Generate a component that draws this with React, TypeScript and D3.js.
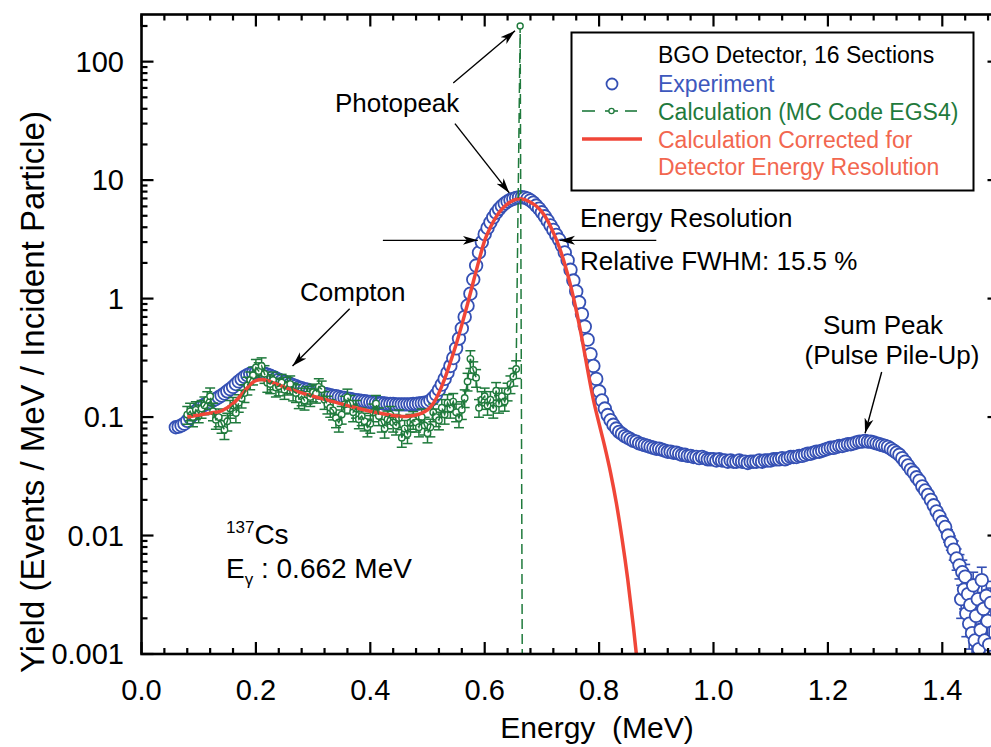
import React, { useEffect, useRef } from 'react';
import * as d3 from 'd3';

// Experiment: BGO spectrum, 5 keV channels
const expComptonStart = 0.06;
const expCompton = [
  0.082, 0.083, 0.085, 0.088, 0.093, 0.099, 0.105, 0.112, 0.118, 0.123,
  0.127, 0.130, 0.134, 0.138, 0.142, 0.147, 0.152, 0.158, 0.165, 0.172,
  0.180, 0.190, 0.200, 0.209, 0.218, 0.226, 0.232, 0.236, 0.238, 0.238,
  0.236, 0.232, 0.228, 0.223, 0.218, 0.212, 0.207, 0.202, 0.198, 0.194,
  0.190, 0.186, 0.182, 0.178, 0.175, 0.172, 0.170, 0.167, 0.165, 0.163,
  0.161, 0.159, 0.157, 0.155, 0.153, 0.151, 0.150, 0.148, 0.146, 0.145,
  0.143, 0.142, 0.140, 0.139, 0.138, 0.137, 0.136, 0.135, 0.134, 0.133,
  0.132, 0.131, 0.131, 0.130, 0.129, 0.129, 0.129, 0.128, 0.128, 0.128,
  0.128, 0.128, 0.128, 0.129, 0.129, 0.130, 0.131, 0.132,
];
const expPhotopeakStart = 0.5;
const expPhotopeak = [
  0.133, 0.138, 0.145, 0.155, 0.170, 0.188, 0.210, 0.237, 0.270, 0.315,
  0.380, 0.460, 0.560, 0.700, 0.870, 1.10, 1.45, 1.90, 2.45, 3.00,
  3.50, 3.95, 4.40, 4.85, 5.30, 5.70, 6.05, 6.35, 6.60, 6.80,
  6.95, 7.08, 7.15, 7.18, 7.12, 6.98, 6.75, 6.45, 6.10, 5.75,
  5.35, 4.95, 4.55, 4.15, 3.80, 3.45, 3.15, 2.80, 2.45, 2.10,
  1.75, 1.42, 1.15, 0.93, 0.74, 0.58, 0.45, 0.34, 0.27, 0.21,
];
const expContinuumStart = 0.8;
const expContinuum = [
  0.165, 0.138, 0.118, 0.104, 0.094, 0.086, 0.080, 0.075, 0.072, 0.069,
  0.067, 0.065, 0.063, 0.062, 0.060, 0.059, 0.058, 0.057, 0.056, 0.055,
  0.054, 0.054, 0.053, 0.052, 0.051, 0.051, 0.050, 0.050, 0.049, 0.048,
  0.048, 0.047, 0.047, 0.046, 0.046, 0.045, 0.046, 0.045, 0.044, 0.044,
  0.044, 0.043, 0.044, 0.043, 0.043, 0.042, 0.043, 0.042, 0.042, 0.043,
  0.042, 0.042, 0.041, 0.042, 0.042, 0.042, 0.043, 0.042, 0.043, 0.043,
  0.043, 0.044, 0.044, 0.044, 0.045, 0.044, 0.045, 0.046, 0.046, 0.046,
  0.047, 0.047, 0.048, 0.049, 0.049, 0.050, 0.051, 0.051, 0.052, 0.053,
];
const expSumPeakStart = 1.2;
const expSumPeak = [
  0.054, 0.055, 0.055, 0.056, 0.057, 0.057, 0.058, 0.059, 0.059, 0.060,
  0.061, 0.062, 0.062, 0.063, 0.062, 0.062, 0.061, 0.060, 0.059, 0.058,
  0.057, 0.056, 0.054, 0.052, 0.050, 0.048, 0.045, 0.042, 0.039, 0.036,
  0.034, 0.031, 0.029, 0.026, 0.024, 0.022, 0.020, 0.018, 0.016, 0.0145,
  0.013,
];
// low-count tail: [energy, yield, error]
const expTail = [
  [1.405, 0.0118, 0.0012], [1.41, 0.0100, 0.0012], [1.415, 0.0087, 0.0012],
  [1.42, 0.0076, 0.0014], [1.425, 0.0064, 0.0013], [1.43, 0.0056, 0.0013],
  [1.433, 0.0029, 0.0009], [1.435, 0.0049, 0.0013], [1.438, 0.0035, 0.0011],
  [1.44, 0.0045, 0.0012], [1.442, 0.0022, 0.0008], [1.445, 0.0032, 0.0010],
  [1.447, 0.0018, 0.0007], [1.449, 0.0026, 0.0009], [1.452, 0.0015, 0.0006],
  [1.454, 0.0038, 0.0011], [1.457, 0.0013, 0.0006], [1.459, 0.0021, 0.0008],
  [1.462, 0.0029, 0.0009], [1.464, 0.0011, 0.0005], [1.467, 0.0016, 0.0007],
  [1.469, 0.0042, 0.0012], [1.472, 0.0024, 0.0009], [1.474, 0.0013, 0.0006],
  [1.477, 0.0031, 0.0010], [1.479, 0.0019, 0.0008], [1.482, 0.0012, 0.0006],
  [1.485, 0.0027, 0.0009],
];

// EGS4 calculation, 5 keV bins from 0.08 MeV
const calcStart = 0.08;
const calcYield = [
  0.105, 0.112, 0.100, 0.115, 0.108, 0.118, 0.126, 0.140, 0.150, 0.112,
  0.095, 0.100, 0.088, 0.078, 0.092, 0.118, 0.125, 0.108, 0.132, 0.144,
  0.160, 0.185, 0.205, 0.225, 0.262, 0.245, 0.270, 0.232, 0.195, 0.190,
  0.205, 0.178, 0.182, 0.196, 0.170, 0.185, 0.190, 0.165, 0.160, 0.142,
  0.150, 0.138, 0.155, 0.148, 0.162, 0.158, 0.180, 0.172, 0.140, 0.128,
  0.120, 0.114, 0.098, 0.090, 0.105, 0.128, 0.147, 0.130, 0.110, 0.118,
  0.096, 0.102, 0.092, 0.082, 0.088, 0.110, 0.130, 0.102, 0.090, 0.080,
  0.096, 0.105, 0.090, 0.085, 0.098, 0.067, 0.080, 0.072, 0.090, 0.095,
  0.090, 0.082, 0.100, 0.085, 0.073, 0.082, 0.110, 0.100, 0.094, 0.120,
  0.105, 0.132, 0.118, 0.135, 0.110, 0.098, 0.115, 0.145, 0.200, 0.310,
  0.250, 0.215, 0.120, 0.140, 0.150, 0.125, 0.140, 0.118, 0.167, 0.130,
  0.150, 0.135, 0.165, 0.190, 0.220, 0.255,
];
const calcRelErr = 0.17;
// full-energy bin and the empty bin after it
const calcSpikeEnergy = [0.662, 0.667];
const calcSpikeYield = [200, 0.00001];

// calculation folded with detector resolution
const corrEnergy = [
  0.08, 0.10, 0.12, 0.14, 0.16, 0.18, 0.19, 0.20, 0.21, 0.22, 0.23, 0.24,
  0.26, 0.28, 0.30, 0.32, 0.34, 0.36, 0.38, 0.40, 0.42, 0.44, 0.46, 0.47,
  0.48, 0.49, 0.50, 0.51, 0.52, 0.53, 0.54, 0.55, 0.56, 0.57, 0.58, 0.59,
  0.60, 0.61, 0.62, 0.63, 0.64, 0.65, 0.66, 0.67, 0.68, 0.69, 0.70, 0.71,
  0.72, 0.73, 0.74, 0.75, 0.76, 0.77, 0.78, 0.79, 0.80, 0.81, 0.82, 0.83,
  0.84, 0.85, 0.86, 0.87,
];
const corrYield = [
  0.100, 0.104, 0.108, 0.113, 0.130, 0.165, 0.188, 0.203, 0.207, 0.203, 0.195, 0.187,
  0.172, 0.160, 0.150, 0.141, 0.133, 0.125, 0.118, 0.112, 0.107, 0.103, 0.101, 0.102,
  0.104, 0.108, 0.115, 0.130, 0.160, 0.210, 0.290, 0.410, 0.600, 0.900, 1.38, 2.10,
  3.10, 4.00, 4.90, 5.70, 6.30, 6.75, 6.95, 6.85, 6.50, 6.05, 5.40, 4.55,
  3.60, 2.75, 1.95, 1.30, 0.80, 0.46, 0.25, 0.14, 0.088, 0.056, 0.034, 0.019,
  0.0095, 0.0043, 0.0017, 0.0006,
];

const xTicks = [0, 0.2, 0.4, 0.6, 0.8, 1.0, 1.2, 1.4];
const xTickLabels = ['0.0', '0.2', '0.4', '0.6', '0.8', '1.0', '1.2', '1.4'];
const yTicks = [0.001, 0.01, 0.1, 1, 10, 100];
const yTickLabels = ['0.001', '0.01', '0.1', '1', '10', '100'];

const FONT = 'Liberation Sans, Arial, Helvetica, sans-serif';
const BLUE = '#3550b4';
const GREEN = '#1f7a3c';
const RED = '#f04638';

export default function App() {
  const ref = useRef<SVGSVGElement>(null);

  useEffect(() => {
    const svg = d3.select(ref.current);
    svg.selectAll('*').remove();

    const left = 141.5, right = 999.5, top = 14.5, bottom = 654;
    const x = d3.scaleLinear().domain([0, 1.5]).range([left, right]);
    const y = d3.scaleLog().domain([0.001, 250]).range([bottom, top]);

    const defs = svg.append('defs');
    defs.append('clipPath').attr('id', 'plotclip')
      .append('rect').attr('x', left).attr('y', top)
      .attr('width', right - left).attr('height', bottom - top);
    defs.append('marker')
      .attr('id', 'arr').attr('viewBox', '0 -5 15 10')
      .attr('refX', 15).attr('refY', 0)
      .attr('markerWidth', 15).attr('markerHeight', 10)
      .attr('markerUnits', 'userSpaceOnUse').attr('orient', 'auto')
      .append('path').attr('d', 'M0,-4.5L15,0L0,4.5L4,0Z').attr('fill', '#000');

    svg.append('rect').attr('width', 991).attr('height', 747).attr('fill', '#fff');

    const plot = svg.append('g').attr('clip-path', 'url(#plotclip)');

    // experiment points
    const segs: [number, number[]][] = [
      [expComptonStart, expCompton],
      [expPhotopeakStart, expPhotopeak],
      [expContinuumStart, expContinuum],
      [expSumPeakStart, expSumPeak],
    ];
    const expPts = segs.flatMap(([s, arr]) => arr.map((v, i) => [s + i * 0.005, v]));
    const tail = expTail.map(d => [d[0], d[1], d[2]]);

    // tail error bars
    const eb = plot.append('g').attr('stroke', BLUE).attr('stroke-width', 1.6);
    tail.forEach(d => {
      const cx = x(d[0]);
      const yl = y(Math.max(d[1] - d[2], 0.0002));
      const yh = y(d[1] + d[2]);
      eb.append('line').attr('x1', cx).attr('x2', cx).attr('y1', yl).attr('y2', yh);
      eb.append('line').attr('x1', cx - 5).attr('x2', cx + 5).attr('y1', yh).attr('y2', yh);
      eb.append('line').attr('x1', cx - 5).attr('x2', cx + 5).attr('y1', yl).attr('y2', yl);
    });

    plot.append('g').selectAll('circle')
      .data([...expPts, ...tail])
      .enter().append('circle')
      .attr('cx', d => x(d[0]))
      .attr('cy', d => y(d[1]))
      .attr('r', 6.3)
      .attr('fill', '#fff')
      .attr('stroke', BLUE)
      .attr('stroke-width', 1.8);

    // calculation (EGS4)
    const calcPts = calcYield.map((v, i) => [calcStart + i * 0.005, v]);
    const calcLine = [...calcPts, ...calcSpikeEnergy.map((e, i) => [e, calcSpikeYield[i]])];
    const ceb = plot.append('g').attr('stroke', GREEN).attr('stroke-width', 1.5);
    calcPts.forEach(d => {
      const cx = x(d[0]);
      const yl = y(d[1] * (1 - calcRelErr));
      const yh = y(d[1] * (1 + calcRelErr));
      ceb.append('line').attr('x1', cx).attr('x2', cx).attr('y1', yl).attr('y2', yh);
      ceb.append('line').attr('x1', cx - 5).attr('x2', cx + 5).attr('y1', yh).attr('y2', yh);
      ceb.append('line').attr('x1', cx - 5).attr('x2', cx + 5).attr('y1', yl).attr('y2', yl);
    });
    plot.append('g').selectAll('circle')
      .data(calcPts)
      .enter().append('circle')
      .attr('cx', d => x(d[0]))
      .attr('cy', d => y(d[1]))
      .attr('r', 3.2)
      .attr('fill', '#fff')
      .attr('stroke', GREEN)
      .attr('stroke-width', 1.4);

    // corrected calculation
    const redLine = d3.line<number>()
      .x((d, i) => x(corrEnergy[i]))
      .y(d => y(d))
      .curve(d3.curveMonotoneX);
    plot.append('path')
      .attr('d', redLine(corrYield))
      .attr('fill', 'none')
      .attr('stroke', RED)
      .attr('stroke-width', 3.5);

    const greenLine = d3.line<number[]>().x(d => x(d[0])).y(d => y(d[1]));
    plot.append('path')
      .attr('d', greenLine(calcLine))
      .attr('fill', 'none')
      .attr('stroke', GREEN)
      .attr('stroke-width', 1.5)
      .attr('stroke-dasharray', '10,5');
    plot.append('circle')
      .attr('cx', x(calcSpikeEnergy[0])).attr('cy', y(calcSpikeYield[0]))
      .attr('r', 3).attr('fill', '#fff').attr('stroke', GREEN).attr('stroke-width', 1.4);

    // axes
    const xMinor = d3.range(0, 1.5001, 0.04).filter(v => !xTicks.some(t => Math.abs(t - v) < 1e-6));
    const yMinor: number[] = [];
    yTicks.concat([1000]).forEach(p => {
      for (let k = 2; k <= 9; k++) if (p * k / 10 > 0.001 && p * k / 10 <= 250) yMinor.push(p * k / 10);
    });
    const axes = svg.append('g').attr('stroke', '#000').attr('stroke-width', 2.2);
    xTicks.forEach(t => {
      axes.append('line').attr('x1', x(t)).attr('x2', x(t)).attr('y1', bottom).attr('y2', bottom - 12);
      axes.append('line').attr('x1', x(t)).attr('x2', x(t)).attr('y1', top).attr('y2', top + 12);
    });
    xMinor.forEach(t => {
      axes.append('line').attr('x1', x(t)).attr('x2', x(t)).attr('y1', bottom).attr('y2', bottom - 6);
      axes.append('line').attr('x1', x(t)).attr('x2', x(t)).attr('y1', top).attr('y2', top + 6);
    });
    yTicks.forEach(t => {
      axes.append('line').attr('x1', left).attr('x2', left + 12).attr('y1', y(t)).attr('y2', y(t));
      axes.append('line').attr('x1', right).attr('x2', right - 12).attr('y1', y(t)).attr('y2', y(t));
    });
    yMinor.forEach(t => {
      axes.append('line').attr('x1', left).attr('x2', left + 6).attr('y1', y(t)).attr('y2', y(t));
      axes.append('line').attr('x1', right).attr('x2', right - 6).attr('y1', y(t)).attr('y2', y(t));
    });
    svg.append('rect')
      .attr('x', left).attr('y', top).attr('width', right - left).attr('height', bottom - top)
      .attr('fill', 'none').attr('stroke', '#000').attr('stroke-width', 2.6);

    const txt = svg.append('g').attr('font-family', FONT);
    xTicks.forEach((t, i) => {
      txt.append('text').attr('x', x(t)).attr('y', 700).attr('text-anchor', 'middle')
        .attr('font-size', 29).text(xTickLabels[i]);
    });
    yTicks.forEach((t, i) => {
      txt.append('text').attr('x', 124).attr('y', y(t) + 10).attr('text-anchor', 'end')
        .attr('font-size', 29).text(yTickLabels[i]);
    });
    txt.append('text').attr('x', 597).attr('y', 738).attr('text-anchor', 'middle')
      .attr('font-size', 30).attr('xml:space', 'preserve').text('Energy  (MeV)');
    txt.append('text')
      .attr('transform', 'translate(44,392) rotate(-90)')
      .attr('text-anchor', 'middle').attr('font-size', 33)
      .text('Yield (Events / MeV / Incident Particle)');

    // legend
    svg.append('rect').attr('x', 571.5).attr('y', 32.5).attr('width', 402).attr('height', 158)
      .attr('fill', '#fff').attr('stroke', '#000').attr('stroke-width', 2);
    const lg = svg.append('g').attr('font-family', FONT).attr('font-size', 23);
    lg.append('text').attr('x', 658).attr('y', 63).attr('fill', '#000').text('BGO Detector, 16 Sections');
    lg.append('text').attr('x', 658).attr('y', 92).attr('fill', '#3d58bd').text('Experiment');
    lg.append('text').attr('x', 658).attr('y', 120).attr('fill', GREEN).text('Calculation (MC Code EGS4)');
    lg.append('text').attr('x', 658).attr('y', 148).attr('fill', '#f2674f').text('Calculation Corrected for');
    lg.append('text').attr('x', 658).attr('y', 175).attr('fill', '#f2674f').text('Detector Energy Resolution');
    svg.append('circle').attr('cx', 612).attr('cy', 84).attr('r', 5.5)
      .attr('fill', '#fff').attr('stroke', BLUE).attr('stroke-width', 1.8);
    [[582, 595], [605, 618], [625, 637]].forEach(s => {
      svg.append('line').attr('x1', s[0]).attr('x2', s[1]).attr('y1', 111).attr('y2', 111)
        .attr('stroke', GREEN).attr('stroke-width', 1.6);
    });
    svg.append('circle').attr('cx', 611.5).attr('cy', 111).attr('r', 2.6)
      .attr('fill', '#fff').attr('stroke', GREEN).attr('stroke-width', 1.3);
    svg.append('line').attr('x1', 582).attr('x2', 642).attr('y1', 139).attr('y2', 139)
      .attr('stroke', RED).attr('stroke-width', 3.5);

    // annotations
    const arrows = [
      [0.545, 66, 0.653, 182],
      [0.548, 30, 0.643, 7.8],
      [0.364, 0.82, 0.264, 0.27],
      [0.422, 3.1, 0.588, 3.1],
      [0.90, 3.1, 0.7316, 3.1],
      [1.294, 0.24, 1.265, 0.073],
    ];
    arrows.forEach(a => {
      svg.append('line')
        .attr('x1', x(a[0])).attr('y1', y(a[1]))
        .attr('x2', x(a[2])).attr('y2', y(a[3]))
        .attr('stroke', '#000').attr('stroke-width', 1.4)
        .attr('marker-end', 'url(#arr)');
    });
    const an = svg.append('g').attr('font-family', FONT).attr('font-size', 26).attr('fill', '#000');
    an.append('text').attr('x', 335).attr('y', 112).text('Photopeak');
    an.append('text').attr('x', 580).attr('y', 227).text('Energy Resolution');
    an.append('text').attr('x', 580).attr('y', 270).text('Relative FWHM: 15.5 %');
    an.append('text').attr('x', 300).attr('y', 301).text('Compton');
    an.append('text').attr('x', 883).attr('y', 334).attr('text-anchor', 'middle').text('Sum Peak');
    an.append('text').attr('x', 892).attr('y', 364).attr('text-anchor', 'middle').text('(Pulse Pile-Up)');

    const cs = an.append('text').attr('x', 226).attr('y', 544).attr('font-size', 28);
    cs.append('tspan').attr('font-size', 17).attr('dy', -11).text('137');
    cs.append('tspan').attr('dy', 11).text('Cs');
    const eg = an.append('text').attr('x', 226).attr('y', 578).attr('font-size', 28);
    eg.append('tspan').text('E');
    eg.append('tspan').attr('font-size', 17).attr('dy', 7).text('γ');
    eg.append('tspan').attr('dy', -7).text(' : 0.662 MeV');
  }, []);

  return (
    <svg ref={ref} width={991} height={747}
      style={{ position: 'absolute', left: 0, top: 0, display: 'block' }} />
  );
}
